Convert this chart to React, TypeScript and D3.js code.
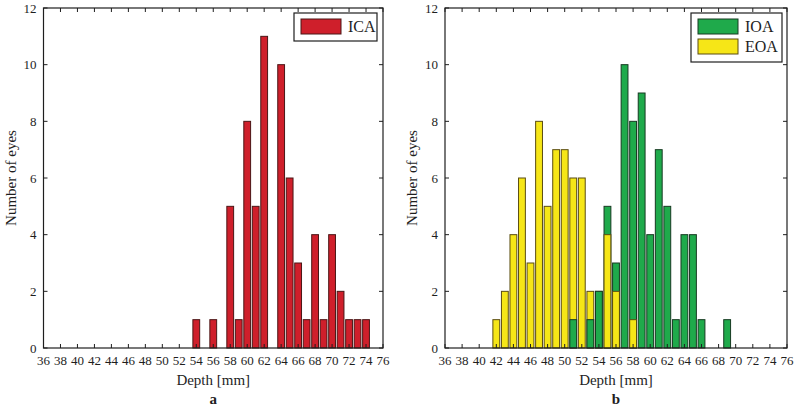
import React from "react";
import * as d3 from "d3";

const depthTicks = [36, 38, 40, 42, 44, 46, 48, 50, 52, 54, 56, 58, 60, 62, 64, 66, 68, 70, 72, 74, 76];
const countTicks = [0, 2, 4, 6, 8, 10, 12];

const icaDepth = [54, 56, 58, 59, 60, 61, 62, 64, 65, 66, 67, 68, 69, 70, 71, 72, 73, 74];
const icaCount = [1, 1, 5, 1, 8, 5, 11, 10, 6, 3, 1, 4, 1, 4, 2, 1, 1, 1];

const ioaDepth = [51, 53, 54, 55, 56, 57, 58, 59, 60, 61, 62, 63, 64, 65, 66, 69];
const ioaCount = [1, 1, 2, 5, 3, 10, 8, 9, 4, 7, 5, 1, 4, 4, 1, 1];

const eoaDepth = [42, 43, 44, 45, 46, 47, 48, 49, 50, 51, 52, 53, 54, 55, 56, 58];
const eoaCount = [1, 2, 4, 6, 3, 8, 5, 7, 7, 6, 6, 2, 2, 4, 2, 1];

const FONT = "'Liberation Serif', 'Times New Roman', serif";
const INK = "#1e1e1e";

type Series = { name: string; depth: number[]; count: number[]; fill: string; stroke: string; order: number };

const ICA: Series = { name: "ICA", depth: icaDepth, count: icaCount, fill: "#cf1f2b", stroke: "#4a1616", order: 0 };
const EOA: Series = { name: "EOA", depth: eoaDepth, count: eoaCount, fill: "#f6e617", stroke: "#5a4c12", order: 0 };
const IOA: Series = { name: "IOA", depth: ioaDepth, count: ioaCount, fill: "#1faa4b", stroke: "#173a22", order: 1 };

function Panel({ left, right, top, bottom, series, legendSeries, legendBox, label }: any) {
  const x = d3.scaleLinear().domain([36, 76]).range([left, right]);
  const y = d3.scaleLinear().domain([0, 12]).range([bottom, top]);
  const bw = x(36.8) - x(36);
  const tl = 4;

  const bars: any[] = [];
  (series as Series[]).forEach((s) => {
    s.depth.forEach((d, i) => bars.push({ d, c: s.count[i], s }));
  });
  bars.sort((a, b) => (b.c - a.c) || (a.s.order - b.s.order));

  const midX = (left + right) / 2;
  const midY = (top + bottom) / 2;

  return (
    <g>
      {bars.map((b, i) => (
        <rect
          key={i}
          x={x(b.d) - bw / 2}
          y={y(b.c)}
          width={bw}
          height={y(0) - y(b.c)}
          fill={b.s.fill}
          stroke={b.s.stroke}
          strokeWidth={1}
        />
      ))}
      {/* frame */}
      <rect x={left} y={top} width={right - left} height={bottom - top} fill="none" stroke={INK} strokeWidth={1.2} />
      {/* x ticks */}
      {depthTicks.map((t) => (
        <g key={"x" + t}>
          <line x1={x(t)} x2={x(t)} y1={bottom} y2={bottom - tl} stroke={INK} />
          <line x1={x(t)} x2={x(t)} y1={top} y2={top + tl} stroke={INK} />
          <text x={x(t)} y={bottom + 17} textAnchor="middle" fontFamily={FONT} fontSize={13} fill={INK}>
            {t}
          </text>
        </g>
      ))}
      {/* y ticks */}
      {countTicks.map((t) => (
        <g key={"y" + t}>
          <line x1={left} x2={left + tl} y1={y(t)} y2={y(t)} stroke={INK} />
          <line x1={right} x2={right - tl} y1={y(t)} y2={y(t)} stroke={INK} />
          <text x={left - 7} y={y(t)} dy="0.35em" textAnchor="end" fontFamily={FONT} fontSize={13} fill={INK}>
            {t}
          </text>
        </g>
      ))}
      <text
        transform={`translate(${left - 33},${midY}) rotate(-90)`}
        textAnchor="middle"
        dy="0.35em"
        fontFamily={FONT}
        fontSize={15}
        fill={INK}
      >
        Number of eyes
      </text>
      <text x={midX} y={bottom + 37} textAnchor="middle" fontFamily={FONT} fontSize={15} fill={INK}>
        Depth [mm]
      </text>
      <text x={midX} y={bottom + 56} textAnchor="middle" fontFamily={FONT} fontSize={15} fontWeight="bold" fill={INK}>
        {label}
      </text>
      {/* legend */}
      <rect
        x={legendBox.x}
        y={legendBox.y}
        width={legendBox.w}
        height={legendBox.h}
        fill="#fff"
        stroke={INK}
        strokeWidth={1.2}
      />
      {(legendSeries as Series[]).map((s, i) => (
        <g key={s.name}>
          <rect
            x={legendBox.x + 7}
            y={legendBox.y + 6 + i * 20}
            width={40}
            height={15}
            fill={s.fill}
            stroke={s.stroke}
            strokeWidth={1}
          />
          <text
            x={legendBox.x + 54}
            y={legendBox.y + 13.5 + i * 20}
            dy="0.35em"
            fontFamily={FONT}
            fontSize={16}
            fill={INK}
          >
            {s.name}
          </text>
        </g>
      ))}
    </g>
  );
}

export default function App() {
  return (
    <svg width={800} height={409} style={{ position: "absolute", left: 0, top: 0, background: "#fff" }}>
      <rect width={800} height={409} fill="#fff" />
      <Panel
        left={43.5}
        right={383}
        top={8}
        bottom={348}
        series={[ICA]}
        legendSeries={[ICA]}
        legendBox={{ x: 294, y: 13, w: 83, h: 28 }}
        label="a"
      />
      <Panel
        left={445}
        right={787}
        top={8}
        bottom={348}
        series={[EOA, IOA]}
        legendSeries={[IOA, EOA]}
        legendBox={{ x: 691, y: 13, w: 91, h: 49 }}
        label="b"
      />
    </svg>
  );
}
